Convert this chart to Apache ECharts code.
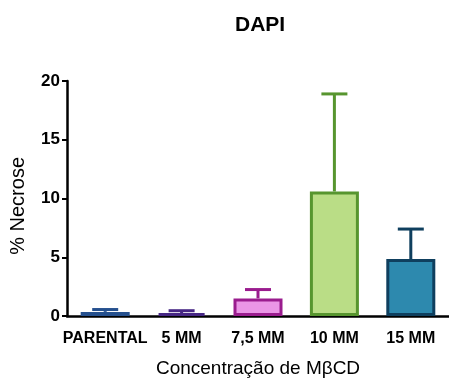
<!DOCTYPE html>
<html>
<head>
<meta charset="utf-8">
<script src="https://cdn.jsdelivr.net/npm/echarts@6/dist/echarts.min.js"></script>
<style>html,body{margin:0;padding:0;background:#fff;}#c{width:449px;height:383px;}</style>
</head>
<body>
<div id="c"></div>
<script>
const categories = ['PARENTAL', '5 MM', '7,5 MM', '10 MM', '15 MM'];
const means = [0.35, 0.25, 1.5, 10.6, 4.85];
const upperErr = [0.55, 0.45, 2.25, 18.9, 7.4];
const fillColors = ['#2b5a9a', '#4a2c8c', '#ea96e6', '#badd86', '#2d89ae'];
const edgeColors = ['#25508e', '#462684', '#9a1c8e', '#57952f', '#0f3f5e'];
const yTicks = [0, 5, 10, 15, 20];

const chart = echarts.init(document.getElementById('c'), null, {renderer: 'canvas'});
const font = 'Liberation Sans, Arial, sans-serif';
chart.setOption({
  animation: false,
  title: {
    text: 'DAPI', left: 230, top: 10,
    textStyle: {fontFamily: font, fontSize: 21, fontWeight: 'bold', color: '#000'}
  },
  graphic: [{
    type: 'text', left: 8, top: 157, rotation: Math.PI / 2,
    style: {text: '% Necrose', font: '20px Liberation Sans, Arial, sans-serif', fill: '#000'}
  }],
  grid: {left: 67, right: -3, top: 81, bottom: 65, containLabel: false},
  xAxis: {
    type: 'category', data: categories,
    name: 'Concentração de MβCD', nameLocation: 'middle', nameGap: 43,
    nameTextStyle: {fontFamily: font, fontSize: 19, color: '#000'},
    axisLine: {lineStyle: {color: '#000', width: 2.5}},
    axisTick: {alignWithLabel: true, length: 6, lineStyle: {color: '#000', width: 2.5}},
    axisLabel: {fontFamily: font, fontSize: 16, fontWeight: 'bold', color: '#000', margin: 15, interval: 0}
  },
  yAxis: {
    type: 'value', min: yTicks[0], max: yTicks[yTicks.length - 1], interval: 5,
    axisLine: {show: true, lineStyle: {color: '#000', width: 2.5}},
    axisTick: {show: true, length: 5, lineStyle: {color: '#000', width: 2}},
    axisLabel: {fontFamily: font, fontSize: 17, fontWeight: 'bold', color: '#000', margin: 7},
    splitLine: {show: false}
  },
  series: [
    {
      type: 'custom', z: 1,
      data: categories.map((c, i) => [i, means[i], upperErr[i]]),
      renderItem: function (params, api) {
        const i = api.value(0);
        const p1 = api.coord([i, api.value(1)]);
        const p2 = api.coord([i, api.value(2)]);
        const col = edgeColors[params.dataIndex];
        const style = {stroke: col, lineWidth: 3, fill: null};
        return {
          type: 'group',
          children: [
            {type: 'line', shape: {x1: p1[0], y1: p1[1], x2: p2[0], y2: p2[1]}, style: style},
            {type: 'line', shape: {x1: p2[0] - 13, y1: p2[1], x2: p2[0] + 13, y2: p2[1]}, style: style}
          ]
        };
      }
    },
    {
      type: 'bar', z: 2, barWidth: 49,
      data: means.map((v, i) => ({
        value: v,
        itemStyle: {color: fillColors[i], borderColor: edgeColors[i], borderWidth: 3}
      }))
    }
  ]
});
</script>
</body>
</html>
